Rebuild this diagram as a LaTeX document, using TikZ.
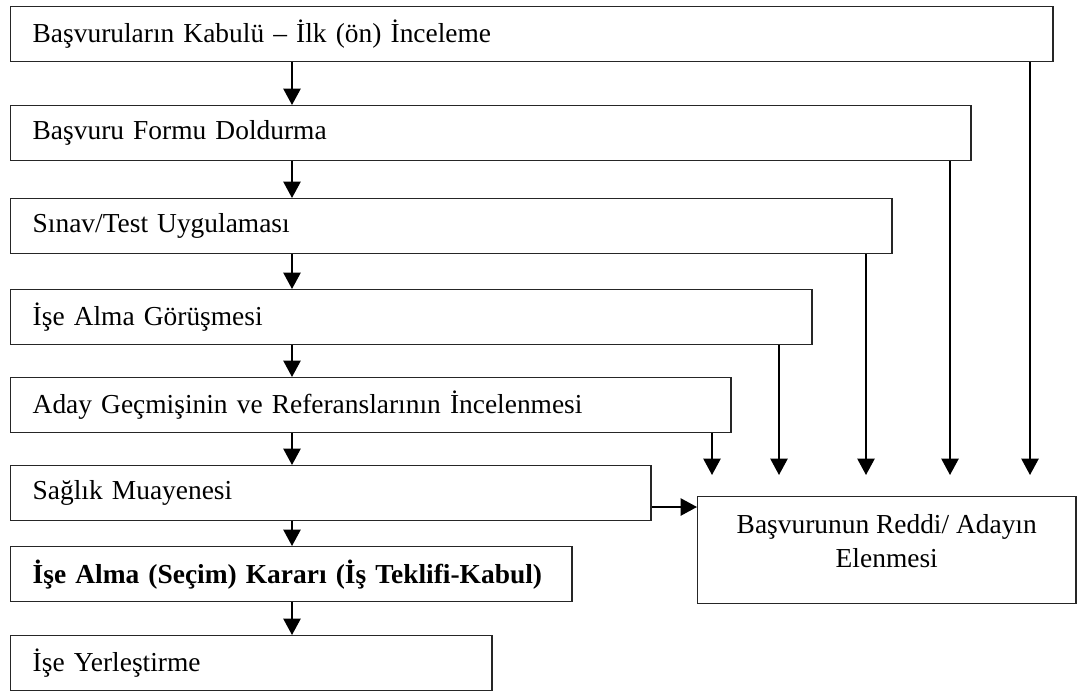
\documentclass[tikz,border=0pt]{standalone}
\usepackage{fontspec}
\setmainfont{Liberation Serif}
\usetikzlibrary{arrows.meta, positioning}

\tikzset{
  asama/.style={draw=black!85, line width=1pt, anchor=north west, minimum height=1.375cm,
    inner xsep=0.55cm, align=left, font=\fontsize{19.5}{24}\selectfont},
  ok/.style={-{Triangle[width=0.43cm, length=0.41cm]}, line width=1.4pt},
}

\begin{document}
\begin{tikzpicture}[x=0.025cm, y=-0.025cm]
  \useasboundingbox (0,0) rectangle (1078,691);

  % Process steps (top to bottom)
  \node[asama, text width=24.95cm] (b1) at (10,6) {Başvuruların Kabulü – İlk (ön) İnceleme};
  \node[asama, text width=22.9cm] (b2) at (10,105) {Başvuru Formu Doldurma};
  \node[asama, text width=20.925cm] (b3) at (10,198) {Sınav/Test Uygulaması};
  \node[asama, text width=18.925cm] (b4) at (10,289) {İşe Alma Görüşmesi};
  \node[asama, text width=16.9cm] (b5) at (10,377) {Aday Geçmişinin ve Referanslarının İncelenmesi};
  \node[asama, text width=14.9cm] (b6) at (10,465) {Sağlık Muayenesi};
  \node[asama, text width=12.925cm, font=\fontsize{19.5}{24}\selectfont\bfseries] (b7) at (10,546) {\mbox{İşe Alma (Seçim) Kararı (İş Teklifi-Kabul)}};
  \node[asama, text width=10.925cm] (b8) at (10,635) {İşe Yerleştirme};

  % Rejection box
  \node[asama, minimum width=9.45cm, minimum height=2.675cm, align=center, text depth=0.45cm] (red) at (697,496) {Başvurunun Reddi/ Adayın\\Elenmesi};

  % Main flow arrows
  \coordinate (eksen) at (292,0);
  \foreach \a/\b in {b1/b2, b2/b3, b3/b4, b4/b5, b5/b6, b6/b7, b7/b8} {
    \draw[ok] (\a.south -| eksen) -- (\b.north -| eksen);
  }

  % Rejection arrows
  \foreach \k/\x in {1/1030, 2/950, 3/866, 4/779, 5/712} {
    \coordinate (r\k) at (\x,0);
    \draw[ok, shorten >=0.525cm] (b\k.south -| r\k) -- (red.north -| r\k);
  }
  \coordinate (r6) at (0,507);
  \draw[ok] (b6.east |- r6) -- (red.west |- r6);
\end{tikzpicture}
\end{document}
